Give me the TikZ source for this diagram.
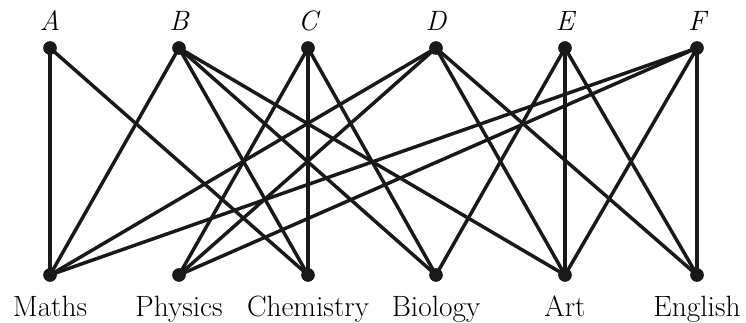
\documentclass[tikz,border=0pt]{standalone}
\begin{document}
\begin{tikzpicture}[x=0.75pt,y=-0.75pt,
  vtx/.style={circle,fill=black!90,inner sep=0pt,minimum size=10pt},
  edge/.style={line width=2.6pt,draw=black!90},
  toplab/.style={font=\fontsize{21}{22}\selectfont\itshape,anchor=base},
  botlab/.style={font=\fontsize{22}{24}\selectfont,anchor=base}]
\useasboundingbox (0,0) rectangle (746,322);
\foreach \n/\x in {A/50,B/179,C/308,D/436,E/565,F/697}{
  \node[vtx] (\n) at (\x,48) {};
  \node[toplab] (l\n) at (\x,30) {\n};
}
\foreach \n/\x/\t in {M/50/Maths,P/179/Physics,Ch/308/Chemistry,Bi/436/Biology,Ar/565/Art,En/697/English}{
  \node[vtx] (\n) at (\x,275) {};
  \node[botlab] (l\n) at (\x,316) {\t};
}
\foreach \a/\b in {A/M,A/Ch,B/M,B/Ch,B/Bi,B/Ar,C/P,C/Ch,C/Bi,D/M,D/P,D/Ar,D/En,E/Bi,E/Ar,E/En,F/M,F/P,F/Ar,F/En}{
  \draw[edge] (\a.center) -- (\b.center);
}
\foreach \n in {A,B,C,D,E,F,M,P,Ch,Bi,Ar,En}{
  \fill[black!90] (\n.center) circle (5pt);
}
\end{tikzpicture}
\end{document}
